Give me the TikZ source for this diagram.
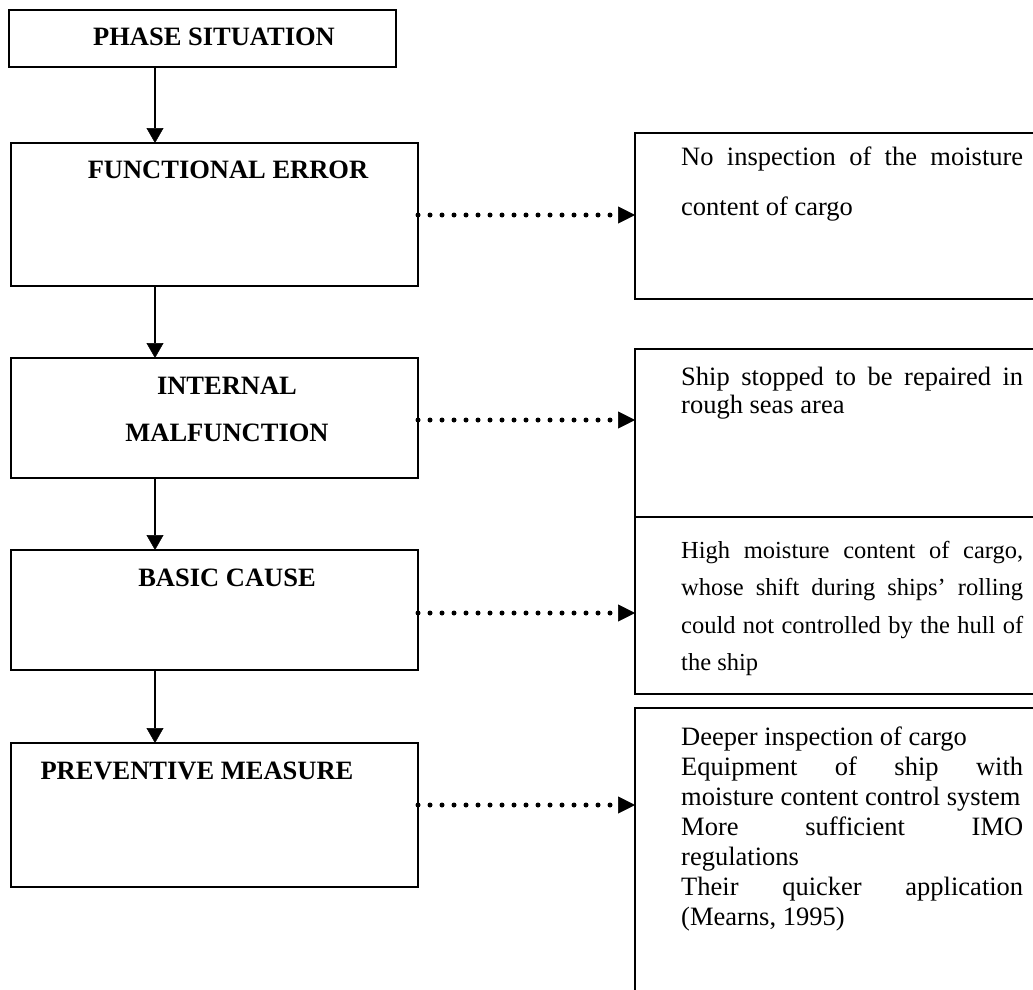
\documentclass[tikz,border=0pt]{standalone}
\usepackage{fontspec}
\setmainfont{Liberation Serif}
\usetikzlibrary{arrows.meta}
\newcommand\hfontA{\fontsize{26.5}{30}\selectfont\bfseries}
\begin{document}
\begin{tikzpicture}[x=1pt,y=1pt,
  box/.style={draw, line width=2pt, rectangle, inner sep=0pt, outer sep=0pt},
  head/.style={inner sep=0pt, anchor=base, font=\hfontA},
  body/.style={inner sep=0pt, anchor=base west},
  arr/.style={line width=2pt, -{Triangle[length=15pt,width=17pt,line width=0.5pt]}},
  dotarr/.style={line width=5pt, line cap=round, dash pattern=on 0pt off 12pt,
     -{Triangle[length=17pt,width=17pt,line width=0.5pt]}}]
\useasboundingbox (0,0) rectangle (1033,-990);
\clip (0,0) rectangle (1033,-990);
% left column boxes
\node[box, minimum width=387pt, minimum height=57pt] (phase) at (202.5,-38.5) {};
\node[box, minimum width=407pt, minimum height=143pt] (fe) at (214.5,-214.5) {};
\node[box, minimum width=407pt, minimum height=120pt] (im) at (214.5,-418) {};
\node[box, minimum width=407pt, minimum height=120pt] (bc) at (214.5,-610) {};
\node[box, minimum width=407pt, minimum height=144pt] (pm) at (214.5,-815) {};
% headings
\node[head] (tphase) at (214,-46) {PHASE SITUATION};
\node[head] (tfe) at (228,-178) {FUNCTIONAL ERROR};
\node[head] (tim) at (227,-394) {\parbox[t]{360pt}{\centering\fontsize{26.5}{47}\selectfont INTERNAL\\MALFUNCTION}};
\node[head] (tbc) at (227,-586) {BASIC CAUSE};
\node[head] (tpm) at (197,-779) {PREVENTIVE MEASURE};
% right column boxes
\node[box, minimum width=405pt, minimum height=166pt] (r1) at (837.5,-216) {};
\node[box, minimum width=405pt, minimum height=168pt] (r2) at (837.5,-433) {};
\node[box, minimum width=405pt, minimum height=177pt] (r3) at (837.5,-605.5) {};
\node[box, minimum width=405pt, minimum height=292pt] (r4) at (837.5,-854) {};
% right texts
\node[body] (s1) at (681,-165) {\parbox[t]{342pt}{\fontsize{26.5}{50}\selectfont
  \makebox[342pt][s]{No inspection of the moisture}\\content of cargo}};
\node[body] (s2) at (681,-385) {\parbox[t]{342pt}{\fontsize{26.5}{28}\selectfont
  \makebox[342pt][s]{Ship stopped to be repaired in}\\rough seas area}};
\node[body] (s3) at (681,-558) {\parbox[t]{342pt}{\fontsize{24.5}{37.5}\selectfont
  \makebox[342pt][s]{High moisture content of cargo,}\\
  \makebox[342pt][s]{whose shift during ships’ rolling}\\
  \makebox[342pt][s]{could not controlled by the hull of}\\
  the ship}};
\node[body] (s4) at (681,-745) {\parbox[t]{342pt}{\fontsize{26.5}{30}\selectfont
  Deeper inspection of cargo\\
  \makebox[342pt][s]{Equipment of ship with}\\
  moisture content control system\\
  \makebox[342pt][s]{More sufficient IMO}\\
  regulations\\
  \makebox[342pt][s]{Their quicker application}\\
  (Mearns, 1995)}};
% vertical arrows
\coordinate (ax) at (155,0);
\draw[arr] (phase.south -| ax) -- (fe.north -| ax);
\draw[arr] (fe.south -| ax) -- (im.north -| ax);
\draw[arr] (im.south -| ax) -- (bc.north -| ax);
\draw[arr] (bc.south -| ax) -- (pm.north -| ax);
% dotted arrows
\coordinate (d1) at (0,-215);
\coordinate (d2) at (0,-420);
\coordinate (d3) at (0,-613);
\coordinate (d4) at (0,-805);
\draw[dotarr] (fe.east |- d1) -- (r1.west |- d1);
\draw[dotarr] (im.east |- d2) -- (r2.west |- d2);
\draw[dotarr] (bc.east |- d3) -- (r3.west |- d3);
\draw[dotarr] (pm.east |- d4) -- (r4.west |- d4);
\end{tikzpicture}
\end{document}
